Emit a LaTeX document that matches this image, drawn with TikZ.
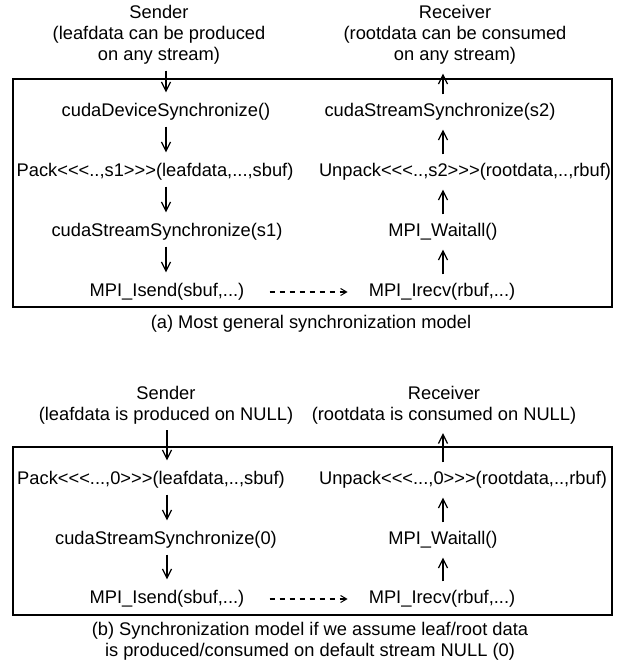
\documentclass[tikz,border=0pt]{standalone}
\usepackage{fontspec}
\setmainfont{Liberation Sans}
\usetikzlibrary{arrows.meta}
\newcommand\Lt{<\kern0pt<\kern0pt<}
\newcommand\Gt{>\kern0pt>\kern0pt>}
\begin{document}
\begin{tikzpicture}[x=1pt,y=-1pt,
  lbl/.style={font=\fontsize{18.3}{21}\selectfont, inner sep=3pt, align=center},
  flow/.style={line width=1.4pt, -{Straight Barb[length=9pt,width=9pt,line width=1.2pt]}},
  down/.style={flow, shorten <=3pt, shorten >=8pt},
  up/.style={flow, shorten <=6pt, shorten >=6pt},
  msg/.style={line width=1.2pt, dash pattern=on 5pt off 5pt, -{Straight Barb[length=6pt,width=7pt,line width=1pt]}},
  frame/.style={draw, line width=1.6pt}]
\useasboundingbox (0,0) rectangle (624,661);
% ---------- (a)
\draw[frame] (13,79) rectangle (612,307);
\node[lbl] (sendA) at (159,35) {Sender\\(leafdata can be produced\\on any stream)};
\node[lbl] (recvA) at (455,35) {Receiver\\(rootdata can be consumed\\on any stream)};
\node[lbl] (dev) at (166,112) {cudaDeviceSynchronize()};
\node[lbl] (pack) at (155,172) {Pack\Lt..,s1\Gt(leafdata,...,sbuf)};
\node[lbl] (ss1) at (167,232) {cudaStreamSynchronize(s1)};
\node[lbl] (isend) at (167,292) {MPI\_Isend(sbuf,...)};
\node[lbl] (irecv) at (442,292) {MPI\_Irecv(rbuf,...)};
\node[lbl] (wait) at (443,232) {MPI\_Waitall()};
\node[lbl] (unpack) at (465,172) {Unpack\Lt..,s2\Gt(rootdata,..,rbuf)};
\node[lbl] (ss2) at (440,112) {cudaStreamSynchronize(s2)};
\node[lbl] (capA) at (311,324) {(a) Most general synchronization model};
\draw[down] (sendA.south -| dev) -- (dev.north);
\draw[down] (dev.south) -- (dev.south |- pack.north);
\draw[down] (dev.south |- pack.south) -- (dev.south |- ss1.north);
\draw[down] (dev.south |- ss1.south) -- (dev.south |- isend.north);
\draw[msg, shorten <=22pt, shorten >=18pt] (isend.east) -- (irecv.west);
\draw[up] (wait |- irecv.north) -- (wait.south);
\draw[up] (wait.north) -- (wait.north |- unpack.south);
\draw[up] (wait.north |- unpack.north) -- (wait.north |- ss2.south);
\draw[up] (wait.north |- ss2.north) -- (wait.north |- recvA.south);
% ---------- (b)
\draw[frame] (13,447) rectangle (612,615);
\node[lbl] (sendB) at (166,405) {Sender\\(leafdata is produced on NULL)};
\node[lbl] (recvB) at (444,405) {Receiver\\(rootdata is consumed on NULL)};
\node[lbl] (packB) at (151,480) {Pack\Lt...,0\Gt(leafdata,..,sbuf)};
\node[lbl] (ss0) at (166,540) {cudaStreamSynchronize(0)};
\node[lbl] (isendB) at (167,599) {MPI\_Isend(sbuf,...)};
\node[lbl] (irecvB) at (442,599) {MPI\_Irecv(rbuf,...)};
\node[lbl] (waitB) at (443,540) {MPI\_Waitall()};
\node[lbl] (unpackB) at (463,480) {Unpack\Lt...,0\Gt(rootdata,..,rbuf)};
\node[lbl] (capB) at (310,641) {(b) Synchronization model if we assume leaf/root data\\is produced/consumed on default stream NULL (0)};
\draw[down] (sendB.south -| isendB) -- (isendB |- packB.north);
\draw[down] (isendB |- packB.south) -- (isendB |- ss0.north);
\draw[down] (isendB |- ss0.south) -- (isendB.north);
\draw[msg, shorten <=22pt, shorten >=18pt] (isendB.east) -- (irecvB.west);
\draw[up] (waitB |- irecvB.north) -- (waitB.south);
\draw[up] (waitB.north) -- (waitB |- unpackB.south);
\draw[up] (waitB |- unpackB.north) -- (waitB |- recvB.south);
\end{tikzpicture}
\end{document}
